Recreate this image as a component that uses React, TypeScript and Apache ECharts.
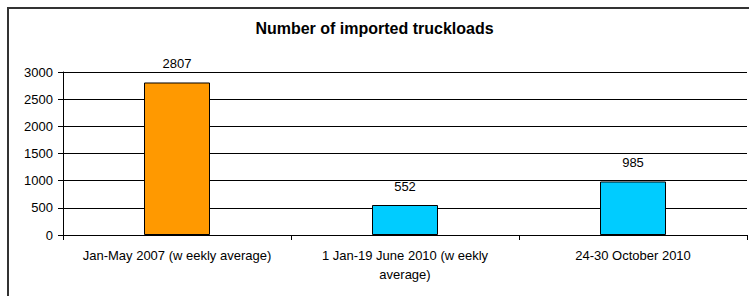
import React, { useEffect, useRef } from "react";
import * as echarts from "echarts";

const title = "Number of imported truckloads";
const categories = [
  "Jan-May 2007 (w eekly average)",
  "1 Jan-19 June 2010 (w eekly\naverage)",
  "24-30 October 2010",
];
const values = [2807, 552, 985];
const barColors = ["#FF9900", "#00CCFF", "#00CCFF"];
const yTicks = { min: 0, max: 3000, interval: 500 };

const FONT = 'Arial, "Liberation Sans", sans-serif';

export default function App() {
  const ref = useRef<HTMLDivElement>(null);
  useEffect(() => {
    if (!ref.current) return;
    const chart = echarts.init(ref.current, undefined, { renderer: "svg" });
    chart.setOption({
      animation: false,
      backgroundColor: "#ffffff",
      title: {
        text: title,
        left: "center",
        top: 15,
        textStyle: { fontFamily: FONT, fontSize: 16, fontWeight: "bold", color: "#000" },
      },
      graphic: [
        {
          type: "rect",
          shape: { x: 8, y: 8, width: 900, height: 500 },
          style: { fill: "none", stroke: "#333333", lineWidth: 2 },
          silent: true,
          z: 100,
        },
      ],
      grid: { left: 63, right: 2, top: 72, bottom: 61 },
      xAxis: {
        type: "category",
        data: categories,
        boundaryGap: true,
        axisLine: { show: true, lineStyle: { color: "#000", width: 1 } },
        axisTick: { show: true, length: 5, alignWithLabel: false, lineStyle: { color: "#000" } },
        axisLabel: {
          interval: 0,
          margin: 11,
          fontFamily: FONT,
          fontSize: 13,
          color: "#000",
          lineHeight: 19,
        },
      },
      yAxis: {
        type: "value",
        min: yTicks.min,
        max: yTicks.max,
        interval: yTicks.interval,
        axisLine: { show: true, lineStyle: { color: "#000", width: 1 } },
        axisTick: { show: true, length: 5, lineStyle: { color: "#000" } },
        splitLine: { show: true, lineStyle: { color: "#000", width: 1 } },
        axisLabel: {
          margin: 10,
          fontFamily: FONT,
          fontSize: 13,
          color: "#000",
          formatter: (v: number) => String(v),
        },
      },
      series: [
        {
          type: "bar",
          barWidth: 66,
          data: values.map((v, i) => ({
            value: v,
            itemStyle: { color: barColors[i], borderColor: "#000", borderWidth: 1 },
          })),
          label: {
            show: true,
            position: "top",
            distance: 12,
            fontFamily: FONT,
            fontSize: 13,
            color: "#000",
          },
        },
      ],
    });
    return () => chart.dispose();
  }, []);
  return (
    <div
      ref={ref}
      style={{ position: "fixed", left: 0, top: 0, width: 749, height: 296 }}
    />
  );
}
